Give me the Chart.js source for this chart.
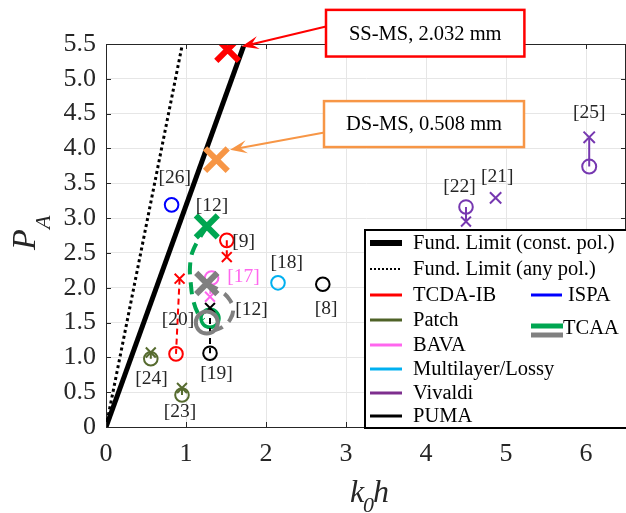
<!DOCTYPE html>
<html>
<head>
<meta charset="utf-8">
<script src="https://cdn.jsdelivr.net/npm/chart.js@4.4.1/dist/chart.umd.min.js"></script>
<style>
  html, body { margin: 0; padding: 0; background: #fff; }
  #wrap { width: 626px; height: 513px; }
</style>
</head>
<body>
<div id="wrap"><canvas id="chart" width="626" height="513"></canvas></div>
<script>
// ticks
const xTicks = [0, 1, 2, 3, 4, 5, 6]
const yTicks = [0, 0.5, 1, 1.5, 2, 2.5, 3, 3.5, 4, 4.5, 5, 5.5]

// fundamental limits, [k0h, PA]
const fundConst = [[0, 0], [1.72, 5.47]]
const fundAny = [[0, 0], [0.95, 5.47]]

// this work
const ssms = [[1.52, 5.42]]
const dsms = [[1.38, 3.84]]

// literature designs, [k0h, PA]
const tcda9 = [[1.51, 2.68], [1.51, 2.44]]
const tcda20 = [[0.92, 2.13], [0.875, 1.05]]
const ispa26 = [[0.82, 3.19]]
const patch24 = [[0.56, 1.07], [0.56, 0.98]]
const patch23 = [[0.95, 0.56], [0.95, 0.46]]
const bava17 = [[1.32, 2.14], [1.30, 1.87]]
const multi18 = [[2.15, 2.07]]
const puma19 = [[1.30, 1.71], [1.30, 1.06]]
const puma8 = [[2.71, 2.05]]
const viv22 = [[4.5, 3.16], [4.5, 2.95]]
const viv21 = [[4.87, 3.29]]
const viv25 = [[6.04, 4.16], [6.04, 3.74]]
// TCAA [12]: curved dashed paths
const tcaaGreen = [[1.26, 2.88], [1.09, 2.54], [1.05, 2.30], [1.06, 2.06], [1.09, 1.82], [1.15, 1.63], [1.22, 1.54]]
const tcaaGreenEnd = [[1.30, 1.56]]
const tcaaGray = [[1.26, 2.06], [1.45, 1.94], [1.55, 1.82], [1.59, 1.68], [1.55, 1.54], [1.46, 1.44], [1.36, 1.39]]
const tcaaGrayEnd = [[1.26, 1.50]]

// reference tags
const refText = ["[26]", "[12]", "[9]", "[18]", "[17]", "[8]", "[12]", "[20]", "[19]", "[24]", "[23]", "[22]", "[21]", "[25]"]
const refX = [0.86, 1.325, 1.72, 2.26, 1.72, 2.75, 1.82, 0.90, 1.38, 0.57, 0.925, 4.42, 4.89, 6.04]
const refY = [3.58, 3.18, 2.66, 2.36, 2.16, 1.70, 1.68, 1.54, 0.77, 0.685, 0.22, 3.45, 3.59, 4.51]

const C = {
  red: "#ff0000",
  orange: "#f79646",
  olive: "#566b2f",
  pink: "#ff66ee",
  cyan: "#00b0f0",
  purple: "#7638b0",
  purpleLine: "#7e2f8e",
  blue: "#0000ff",
  green: "#00a651",
  gray: "#808080",
  ink: "#262626",
}

const callouts = [
  { text: "SS-MS, 2.032 mm", color: C.red, box: [2.75, 5.99, 5.23, 5.32], from: [2.75, 5.75], to: [1.696, 5.464] },
  { text: "DS-MS, 0.508 mm", color: C.orange, box: [2.725, 4.68, 5.225, 4.02], from: [2.73, 4.23], to: [1.55, 3.98] },
]

const legendLeft = [
  { label: "Fund. Limit (const. pol.)", color: "#000", width: 6 },
  { label: "Fund. Limit (any pol.)", color: "#000", width: 2, dash: [2, 2] },
  { label: "TCDA-IB", color: C.red, width: 3 },
  { label: "Patch", color: "#4f6228", width: 3 },
  { label: "BAVA", color: C.pink, width: 3 },
  { label: "Multilayer/Lossy", color: C.cyan, width: 3 },
  { label: "Vivaldi", color: C.purpleLine, width: 3 },
  { label: "PUMA", color: "#000", width: 3 },
]

const pts = (arr) => arr.map(([x, y]) => ({ x, y }))

function marks(arr, color, styles, extra) {
  return Object.assign({
    data: pts(arr),
    borderColor: color,
    backgroundColor: "transparent",
    pointBorderColor: color,
    pointBackgroundColor: "transparent",
    pointStyle: styles,
    pointRadius: styles.map((s) => (s === "circle" ? 6.8 : 7)),
    pointBorderWidth: 2,
    borderWidth: 2,
    showLine: arr.length > 1,
    borderDash: [6, 4],
    order: 1,
  }, extra || {})
}

const datasets = [
  { data: pts(fundConst), showLine: true, borderColor: "#000", borderWidth: 5, pointRadius: 0, order: 10 },
  { data: pts(fundAny), showLine: true, borderColor: "#000", borderWidth: 3, borderDash: [3, 3], pointRadius: 0, order: 10 },
  marks(tcda9, C.red, ["circle", "crossRot"]),
  marks(tcda20, C.red, ["crossRot", "circle"]),
  marks(ispa26, C.blue, ["circle"]),
  marks(patch24, C.olive, ["crossRot", "circle"], { borderDash: [] }),
  marks(patch23, C.olive, ["crossRot", "circle"], { borderDash: [] }),
  marks(bava17, C.pink, ["circle", "crossRot"]),
  marks(multi18, C.cyan, ["circle"]),
  marks(puma19, "#000", ["crossRot", "circle"]),
  marks(puma8, "#000", ["circle"]),
  marks(viv22, C.purple, ["circle", "crossRot"], { borderDash: [] }),
  marks(viv21, C.purple, ["crossRot"], { pointRadius: 8 }),
  marks(viv25, C.purple, ["crossRot", "circle"], { borderDash: [], pointRadius: [8, 7] }),
  {
    data: pts(tcaaGreen), showLine: true, tension: 0.4, borderColor: C.green, borderWidth: 4, borderDash: [12, 8],
    pointStyle: "crossRot", pointRadius: tcaaGreen.map((p, i) => (i === 0 ? 15.5 : 0)),
    pointBorderColor: C.green, pointBorderWidth: 6, order: 2,
  },
  marks(tcaaGreenEnd, C.green, ["circle"], { pointRadius: 9, pointBorderWidth: 3.5, order: 2 }),
  {
    data: pts(tcaaGray), showLine: true, tension: 0.4, borderColor: C.gray, borderWidth: 4, borderDash: [12, 8],
    pointStyle: "crossRot", pointRadius: tcaaGray.map((p, i) => (i === 0 ? 15 : 0)),
    pointBorderColor: C.gray, pointBorderWidth: 6, order: 0,
  },
  marks(tcaaGrayEnd, C.gray, ["circle"], { pointRadius: 11, pointBorderWidth: 4, order: 0 }),
  marks(ssms, C.red, ["crossRot"], { pointRadius: 16, pointBorderWidth: 6, order: 0 }),
  marks(dsms, C.orange, ["crossRot"], { pointRadius: 16, pointBorderWidth: 6, order: 0 }),
]

function arrow(ctx, x0, y0, x1, y1, color) {
  const ang = Math.atan2(y1 - y0, x1 - x0)
  const len = 17, half = 6.5
  ctx.strokeStyle = color
  ctx.fillStyle = color
  ctx.lineWidth = 2
  ctx.beginPath()
  ctx.moveTo(x0, y0)
  ctx.lineTo(x1 - Math.cos(ang) * len * 0.6, y1 - Math.sin(ang) * len * 0.6)
  ctx.stroke()
  const bx = x1 - Math.cos(ang) * len, by = y1 - Math.sin(ang) * len
  const nx = -Math.sin(ang), ny = Math.cos(ang)
  ctx.beginPath()
  ctx.moveTo(x1, y1)
  ctx.lineTo(bx + nx * half, by + ny * half)
  ctx.lineTo(x1 - Math.cos(ang) * len * 0.6, y1 - Math.sin(ang) * len * 0.6)
  ctx.lineTo(bx - nx * half, by - ny * half)
  ctx.closePath()
  ctx.fill()
}

const decorations = {
  id: "decorations",
  afterDraw(chart) {
    const { ctx, chartArea: a, scales } = chart
    const px = (v) => scales.x.getPixelForValue(v)
    const py = (v) => scales.y.getPixelForValue(v)
    const serif = '"Liberation Serif", "Times New Roman", serif'
    ctx.save()

    // frame with inward ticks
    ctx.strokeStyle = C.ink
    ctx.lineWidth = 1
    ctx.beginPath()
    ctx.moveTo(a.left, a.top + 0.5); ctx.lineTo(a.right, a.top + 0.5)
    ctx.moveTo(a.right - 0.5, a.top); ctx.lineTo(a.right - 0.5, a.bottom)
    for (const v of xTicks) {
      const X = Math.round(px(v)) + 0.5
      ctx.moveTo(X, a.bottom); ctx.lineTo(X, a.bottom - 5)
      ctx.moveTo(X, a.top); ctx.lineTo(X, a.top + 5)
    }
    for (const v of yTicks) {
      const Y = Math.round(py(v)) + 0.5
      ctx.moveTo(a.left, Y); ctx.lineTo(a.left + 5, Y)
      ctx.moveTo(a.right, Y); ctx.lineTo(a.right - 5, Y)
    }
    ctx.stroke()

    // reference tags
    ctx.font = "19.5px " + serif
    ctx.textAlign = "center"
    ctx.textBaseline = "middle"
    refText.forEach((t, i) => {
      ctx.fillStyle = t === "[17]" ? C.pink : C.ink
      ctx.fillText(t, px(refX[i]), py(refY[i]))
    })

    // callouts
    for (const c of callouts) {
      const x0 = px(c.box[0]), y0 = py(c.box[1]), x1 = px(c.box[2]), y1 = py(c.box[3])
      arrow(ctx, px(c.from[0]), py(c.from[1]), px(c.to[0]), py(c.to[1]), c.color)
      ctx.fillStyle = "#fff"
      ctx.fillRect(x0, y0, x1 - x0, y1 - y0)
      ctx.strokeStyle = c.color
      ctx.lineWidth = 2.5
      ctx.strokeRect(x0, y0, x1 - x0, y1 - y0)
      ctx.fillStyle = "#000"
      ctx.font = "20.5px " + serif
      ctx.textAlign = "center"
      ctx.fillText(c.text, (x0 + x1) / 2, (y0 + y1) / 2 + 1)
    }

    // legend box
    const lx = 365, ly = 230
    ctx.fillStyle = "#fff"
    ctx.fillRect(lx, ly, 300, a.bottom - ly)
    ctx.strokeStyle = "#000"
    ctx.lineWidth = 2
    ctx.strokeRect(lx, ly, 300, a.bottom - ly + 1)
    const rows = [243, 269, 295, 320, 345, 369, 393, 416]
    ctx.font = "20.5px " + serif
    ctx.textAlign = "left"
    ctx.textBaseline = "middle"
    legendLeft.forEach((e, i) => {
      ctx.strokeStyle = e.color
      ctx.lineWidth = e.width
      ctx.setLineDash(e.dash || [])
      ctx.beginPath()
      ctx.moveTo(370, rows[i]); ctx.lineTo(402, rows[i])
      ctx.stroke()
      ctx.setLineDash([])
      ctx.fillStyle = "#000"
      ctx.fillText(e.label, 413, rows[i] + 1)
    })
    ctx.strokeStyle = C.blue
    ctx.lineWidth = 3
    ctx.beginPath(); ctx.moveTo(531, rows[2]); ctx.lineTo(562, rows[2]); ctx.stroke()
    ctx.fillText("ISPA", 568, rows[2] + 1)
    ctx.lineWidth = 5
    ctx.strokeStyle = C.green
    ctx.beginPath(); ctx.moveTo(531, 326); ctx.lineTo(563, 326); ctx.stroke()
    ctx.strokeStyle = C.gray
    ctx.beginPath(); ctx.moveTo(531, 335); ctx.lineTo(563, 335); ctx.stroke()
    ctx.fillText("TCAA", 563, 329)

    // axis titles
    ctx.fillStyle = C.ink
    ctx.textAlign = "left"
    ctx.textBaseline = "alphabetic"
    ctx.font = "italic 32px " + serif
    ctx.fillText("k", 350, 502)
    ctx.fillText("h", 373, 502)
    ctx.font = "italic 22px " + serif
    ctx.fillText("0", 363, 512)

    ctx.translate(35, 250)
    ctx.rotate(-Math.PI / 2)
    ctx.font = "italic 34px " + serif
    ctx.fillText("P", 0, 0)
    ctx.font = "italic 22px " + serif
    ctx.fillText("A", 21, 15)
    ctx.restore()
  },
}

Chart.defaults.font.family = '"Liberation Serif", "Times New Roman", serif'

new Chart(document.getElementById("chart"), {
  type: "scatter",
  data: { datasets },
  options: {
    responsive: false,
    animation: false,
    events: [],
    layout: { autoPadding: false, padding: { top: 44, right: 0, left: 0, bottom: 0 } },
    plugins: { legend: { display: false }, tooltip: { enabled: false } },
    scales: {
      x: {
        type: "linear", min: 0, max: 6.5,
        afterBuildTicks: (s) => { s.ticks = xTicks.map((v) => ({ value: v })) },
        afterFit: (s) => { s.height = 86; s.paddingLeft = 0; s.paddingRight = 0 },
        grid: { color: "#e6e6e6", drawTicks: false },
        border: { color: C.ink },
        ticks: { color: C.ink, font: { size: 26 }, padding: 12 },
      },
      y: {
        type: "linear", min: 0, max: 5.5,
        afterBuildTicks: (s) => { s.ticks = yTicks.map((v) => ({ value: v })) },
        afterFit: (s) => { s.width = 106; s.paddingTop = 0; s.paddingBottom = 0 },
        grid: { color: "#e6e6e6", drawTicks: false },
        border: { color: C.ink },
        ticks: { color: C.ink, font: { size: 26 }, padding: 10 },
      },
    },
  },
  plugins: [decorations],
})
</script>
</body>
</html>
